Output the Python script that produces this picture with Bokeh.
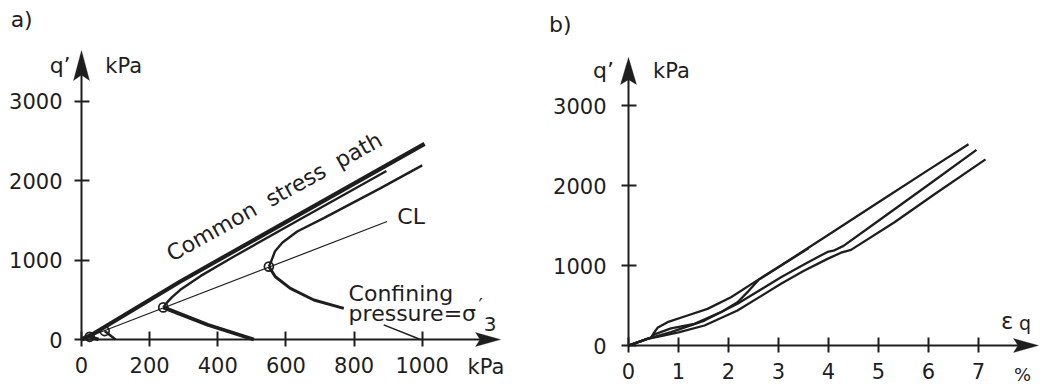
from bokeh.plotting import figure
from bokeh.layouts import row
from bokeh.models import FixedTicker, Label, PolyAnnotation, Range1d
from bokeh.embed import file_html
from bokeh.resources import INLINE

INK = "#1e1e1e"
FONT = "DejaVu Sans"

# ---------------- panel a) : q' against stress, kPa ----------------
a_xticks = [0, 200, 400, 600, 800, 1000]
a_yticks = [0, 1000, 2000, 3000]
csp_p = [0, 30, 290, 1007]                      # common stress path
csp_q = [0, 60, 730, 2460]
cl_p = [0, 897]                                 # CL line
cl_q = [0, 1484]
t50_p = [50, 24]
t50_q = [0, 34]
t100_p = [100, 68]
t100_q = [0, 106]
t500_dn_p = [506, 370, 240]
t500_dn_q = [0, 185, 404]
t500_up_p = [240, 250, 265, 290, 350, 450, 643, 895]
t500_up_q = [404, 460, 530, 625, 800, 1050, 1515, 2120]
t1000_dn_p = [770, 682, 613, 569, 550]
t1000_dn_q = [391, 497, 643, 790, 917]
t1000_lead_p = [887, 995]
t1000_lead_q = [184, 0]
t1000_up_p = [550, 556, 568, 590, 633, 711, 878, 1000]
t1000_up_q = [917, 975, 1110, 1220, 1358, 1526, 1904, 2190]
cl_pts_p = [24, 68, 240, 550]
cl_pts_q = [34, 106, 404, 917]

# ---------------- panel b) : q' against eps_q, % ----------------
b_xticks = [0, 1, 2, 3, 4, 5, 6, 7]
b_yticks = [0, 1000, 2000, 3000]
c1_e = [0, 0.25, 0.45, 0.5, 0.58, 0.78, 1.18, 1.58, 2.05, 2.52, 3.05, 4.0, 5.0, 6.0, 6.8]
c1_q = [0, 55, 100, 150, 221, 292, 375, 458, 604, 792, 1000, 1385, 1790, 2195, 2515]
c2_e = [0, 0.25, 0.45, 0.52, 0.85, 1.32, 1.85, 2.18, 2.4, 2.6, 3.05, 3.6]
c2_q = [0, 55, 100, 140, 215, 271, 417, 540, 680, 820, 1000, 1215]
c3_e = [0, 0.38, 0.85, 1.52, 2.18, 3.05, 3.5, 3.98, 4.1, 4.3, 5.0, 6.0, 6.96]
c3_q = [0, 83, 167, 312, 521, 854, 1010, 1170, 1185, 1245, 1560, 2010, 2446]
c4_e = [0, 0.38, 0.6, 1.0, 1.52, 2.18, 3.05, 3.5, 3.98, 4.25, 4.45, 5.32, 6.12, 7.14]
c4_q = [0, 83, 110, 165, 250, 437, 771, 930, 1083, 1160, 1195, 1540, 1890, 2327]

H = 385


def make_fig(width, ox, oy, sx, sy, xticks, yticks, xstand, ystand):
    """Frame fills the whole canvas; the axes sit at data 0 (pixel ox, oy)."""
    p = figure(width=width, height=H,
               x_range=Range1d(-ox / sx, (width - ox) / sx),
               y_range=Range1d(-(H - oy) / sy, oy / sy),
               output_backend="svg", toolbar_location=None, min_border=0,
               min_border_left=0, min_border_right=0, min_border_top=0,
               min_border_bottom=0)
    p.outline_line_color = None
    p.grid.visible = False
    p.background_fill_color = "white"
    p.border_fill_color = "white"
    p.xaxis.fixed_location = 0
    p.yaxis.fixed_location = 0
    p.xaxis.ticker = FixedTicker(ticks=xticks)
    p.yaxis.ticker = FixedTicker(ticks=yticks)
    p.xaxis.major_label_standoff = xstand
    p.yaxis.major_label_standoff = ystand
    for ax in (p.xaxis[0], p.yaxis[0]):
        ax.axis_line_width = 2
        ax.axis_line_color = INK
        ax.major_tick_line_width = 2
        ax.major_tick_line_color = INK
        ax.major_tick_in = 8
        ax.major_tick_out = 7
        ax.minor_tick_line_color = None
        ax.major_label_text_font = FONT
        ax.major_label_text_font_size = "21px"
        ax.major_label_text_color = INK
    return p


def arrow_head(p, xt, yt, sx, sy, direction, length=26, half=8):
    if direction == "right":
        xs = [xt, xt - length / sx, xt - 0.82 * length / sx, xt - length / sx]
        ys = [yt, yt + half / sy, yt, yt - half / sy]
    else:
        xs = [xt, xt + half / sx, xt, xt - half / sx]
        ys = [yt, yt - length / sy, yt - 0.82 * length / sy, yt - length / sy]
    p.add_layout(PolyAnnotation(xs=xs, ys=ys, fill_color=INK, fill_alpha=1,
                                line_color=INK, line_width=1))


def lab(p, x, y, text, size="22px", align="left", angle=0):
    p.add_layout(Label(x=x, y=y, text=text, text_font=FONT, text_font_size=size,
                       text_color=INK, text_align=align, text_baseline="alphabetic",
                       angle=angle, angle_units="deg"))


# ---------------- figure a ----------------
A_SX, A_SY = 0.3407, 0.0795
pa = make_fig(528, 81, 339, A_SX, A_SY, a_xticks, a_yticks, 10, 12)
ax_tip, ay_tip = 1230, 3635
pa.xaxis.bounds = (0, ax_tip - 12 / A_SX)
pa.yaxis.bounds = (0, ay_tip - 15 / A_SY)
arrow_head(pa, ax_tip, 0, A_SX, A_SY, "right", length=25, half=7)
arrow_head(pa, 0, ay_tip, A_SX, A_SY, "up", length=30, half=8)

pa.line(cl_p, cl_q, line_color=INK, line_width=1.2)
pa.line(csp_p, csp_q, line_color=INK, line_width=4.2)
pa.line(t500_up_p, t500_up_q, line_color=INK, line_width=2.4)
pa.line(t1000_up_p, t1000_up_q, line_color=INK, line_width=2.4)
pa.line(t500_dn_p, t500_dn_q, line_color=INK, line_width=3.8)
pa.line(t1000_dn_p, t1000_dn_q, line_color=INK, line_width=3.0)
pa.line(t1000_lead_p, t1000_lead_q, line_color=INK, line_width=1.6)
pa.line(t100_p, t100_q, line_color=INK, line_width=2.5)
pa.line(t50_p, t50_q, line_color=INK, line_width=3.5)
pa.scatter(cl_pts_p, cl_pts_q, marker="circle", size=9, fill_color="white",
           fill_alpha=0.0, line_color=INK, line_width=1.7)

lab(pa, -208, 4025, "a)")
lab(pa, -32, 3446, "q\u2019", align="right")
lab(pa, 70, 3446, "kPa", size="21px")
lab(pa, 1133, -340, "kPa", size="21px")
lab(pa, 255, 1057, "Common\u00a0 stress\u00a0 path", angle=29)
lab(pa, 927, 1543, "CL")
lab(pa, 784, 578, "Confining")
lab(pa, 784, 327, "pressure=\u03c3")
lab(pa, 1165, 440, "\u2032", size="19px")
lab(pa, 1181, 201, "3", size="20px")

# ---------------- figure b ----------------
B_SX, B_SY = 50.0, 0.08
pb = make_fig(513, 100, 345, B_SX, B_SY, b_xticks, b_yticks, 10, 15)
bx_tip, by_tip = 8.2, 3600
pb.xaxis.bounds = (0, bx_tip - 12 / B_SX)
pb.yaxis.bounds = (0, by_tip - 14 / B_SY)
arrow_head(pb, bx_tip, 0, B_SX, B_SY, "right", length=25, half=7)
arrow_head(pb, 0, by_tip, B_SX, B_SY, "up", length=27, half=8)

for e, q in ((c1_e, c1_q), (c2_e, c2_q), (c3_e, c3_q), (c4_e, c4_q)):
    pb.line(e, q, line_color=INK, line_width=2.3)

lab(pb, -1.59, 4012, "b)")
lab(pb, -0.29, 3437, "q\u2019", align="right")
lab(pb, 0.49, 3437, "kPa", size="21px")
lab(pb, 7.45, 312, "\u03b5", size="23px")
lab(pb, 7.81, 280, "q", size="19px")
lab(pb, 8.05, -362, "%", size="18px", align="right")

layout = row(pa, pb)
open("out.html", "w").write(file_html(layout, INLINE))
